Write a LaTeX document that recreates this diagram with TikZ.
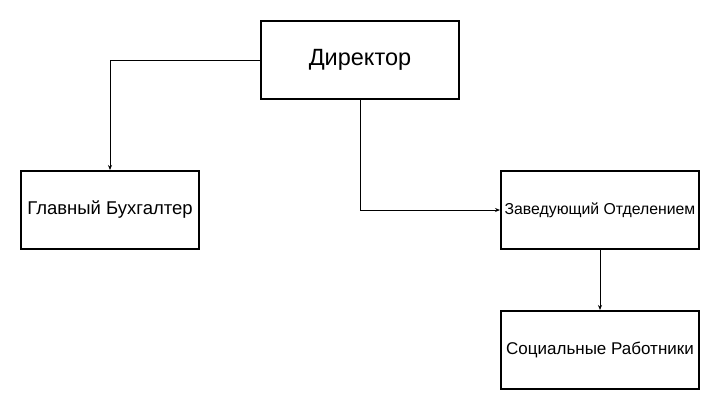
\documentclass[tikz,border=0pt]{standalone}
\usepackage{fontspec}
\setmainfont{Liberation Sans}
\usetikzlibrary{arrows.meta,positioning}

\begin{document}
\begin{tikzpicture}[
  x=1pt,y=-1pt,
  >={Stealth[length=5pt,width=4pt]},
  post/.style={draw,line width=2pt,fill=white,align=center,minimum height=78pt,minimum width=198pt,inner sep=0pt,font=\fontsize{17}{20}\selectfont},
  ar/.style={->,line width=1pt}
]
\useasboundingbox (0,0) rectangle (720,410);

\node[post,font=\fontsize{23.5}{28}\selectfont] (dir) at (360,60) {Директор};
\node[post,minimum width=178pt,font=\fontsize{18.5}{22}\selectfont] (buh) at (110,210) {Главный Бухгалтер};
\node[post,font=\fontsize{15.8}{19}\selectfont] (zav) at (600,210) {Заведующий Отделением};
\node[post,below=60pt of zav] (soc) {Социальные Работники};

% wires
\draw[ar] (dir.west) -| (buh.north);
\draw[ar] (dir.south) |- (zav.west);
\draw[ar] (zav) -- (soc);
\end{tikzpicture}
\end{document}
